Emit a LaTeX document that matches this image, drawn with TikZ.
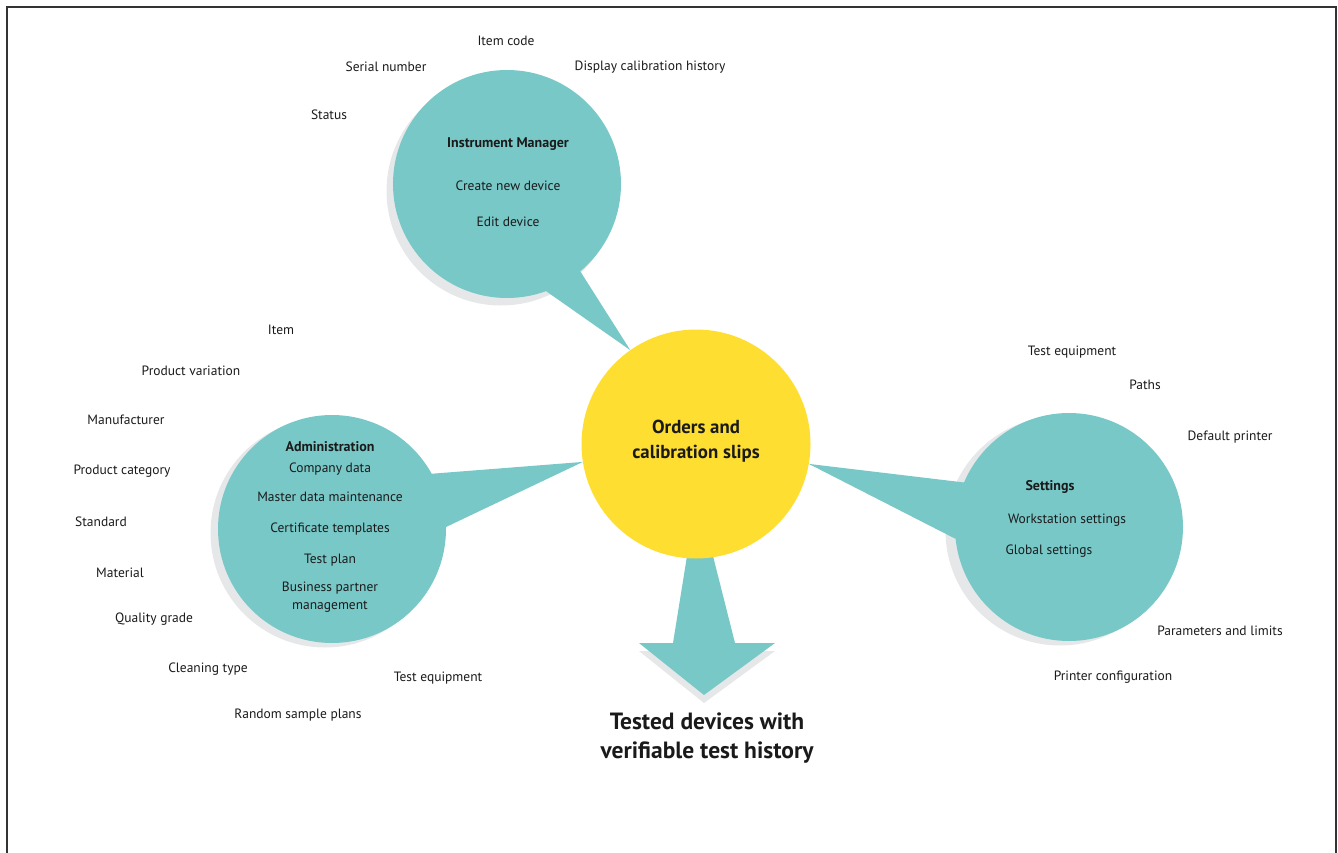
\documentclass[tikz,border=0pt]{standalone}
\usepackage{fontspec}
\setmainfont{PT Sans}
\usetikzlibrary{calc}
\definecolor{tealc}{HTML}{79C8C8}
\definecolor{sunc}{HTML}{FEDE30}
\definecolor{shadec}{HTML}{E6E7E8}
\definecolor{inkc}{HTML}{1A1A1A}
\definecolor{framec}{HTML}{333333}
\begin{document}
\begin{tikzpicture}[x=1pt,y=-1pt,
  lbl/.style={font=\fontsize{13.5}{15}\selectfont, text=inkc, inner sep=0pt, anchor=center},
  ttl/.style={font=\fontsize{14}{15}\selectfont\bfseries, text=inkc, inner sep=0pt},
  bigttl/.style={font=\fontsize{18.8}{24.5}\selectfont\bfseries, text=inkc, inner sep=0pt, align=center},
  hugettl/.style={font=\fontsize{23.5}{29}\selectfont\bfseries, text=inkc, inner sep=0pt, align=center},
  bubble/.style={circle, fill=tealc, minimum size=228pt, inner sep=0pt, outer sep=0pt},
  shadowc/.style={circle, fill=shadec, minimum size=229pt, inner sep=0pt, outer sep=0pt},
  corec/.style={circle, fill=sunc, minimum size=229pt, inner sep=0pt, outer sep=0pt}]
\useasboundingbox (0,0) rectangle (1338,852);
\draw[line width=2pt, draw=framec] (7,853) -- (7,7) -- (1336,7) -- (1336,853);

% shadows
\node[shadowc] (imsh) at (501,191) {};
\node[shadowc] (adsh) at (325,533) {};
\node[shadowc] (stsh) at (1060,531) {};

% down arrow (shadow + arrow)
\coordinate (atl) at (687,556);
\coordinate (atr) at (713,556);
\coordinate (asr) at (735,643);
\coordinate (ahr) at (775,643);
\coordinate (atip) at (704,695);
\coordinate (ahl) at (639,643);
\coordinate (asl) at (673,643);
\fill[shadec] ($(ahl)+(0,8)$) -- ($(ahr)+(0,8)$) -- ($(atip)+(0,8)$) -- cycle;
\fill[tealc] (atl) -- (atr) -- (asr) -- (ahr) -- (atip) -- (ahl) -- (asl) -- cycle;

% circles
\node[bubble] (im) at (507,184) {};
\node[bubble] (ad) at (332,529) {};
\node[bubble] (st) at (1069,527) {};
\node[corec] (core) at (696,444) {};

% wedges
\fill[tealc] (im.-70) -- (im.-50.6) -- (core.125) -- cycle;
\fill[tealc] (ad.29.4) -- (ad.1) -- (core.189.3) -- cycle;
\fill[tealc] (st.157.5) -- (st.186) -- (core.-10.3) -- cycle;

% center texts
\node[bigttl] (coret) at (696,441) {Orders and\\calibration slips};
\node[hugettl] (result) at (707,738) {Tested devices with\\verifiable test history};

% Instrument manager
\node[ttl] (imt) at (508,144) {Instrument Manager};
\node[lbl] (im1) at (508,186) {Create new device};
\node[lbl] (im2) at (508,222) {Edit device};
\node[lbl] (imo1) at (506,41) {Item code};
\node[lbl] (imo2) at (386,67) {Serial number};
\node[lbl] (imo3) at (650,67) {Display calibration history};
\node[lbl] (imo4) at (329,115) {Status};

% Administration
\node[ttl] (adt) at (330,447) {Administration};
\node[lbl] (ad1) at (330,469) {Company data};
\node[lbl] (ad2) at (330,497) {Master data maintenance};
\node[lbl] (ad3) at (330,529) {Certificate templates};
\node[lbl] (ad4) at (330,560) {Test plan};
\node[lbl, align=center, font=\fontsize{13.5}{18}\selectfont] (ad5) at (330,597) {Business partner\\management};
\node[lbl] (ado1) at (281,330) {Item};
\node[lbl] (ado2) at (191,371) {Product variation};
\node[lbl] (ado3) at (126,420) {Manufacturer};
\node[lbl] (ado4) at (122,471) {Product category};
\node[lbl] (ado5) at (101,522) {Standard};
\node[lbl] (ado6) at (120,573) {Material};
\node[lbl] (ado7) at (154,619) {Quality grade};
\node[lbl] (ado8) at (208,669) {Cleaning type};
\node[lbl] (ado9) at (298,715) {Random sample plans};
\node[lbl] (ado10) at (438,678) {Test equipment};

% Settings
\node[ttl] (stt) at (1050,487) {Settings};
\node[lbl] (st1) at (1067,520) {Workstation settings};
\node[lbl] (st2) at (1049,551) {Global settings};
\node[lbl] (sto1) at (1072,352) {Test equipment};
\node[lbl] (sto2) at (1145,385) {Paths};
\node[lbl] (sto3) at (1230,437) {Default printer};
\node[lbl] (sto4) at (1220,631) {Parameters and limits};
\node[lbl] (sto5) at (1113,677) {Printer configuration};
\end{tikzpicture}
\end{document}
